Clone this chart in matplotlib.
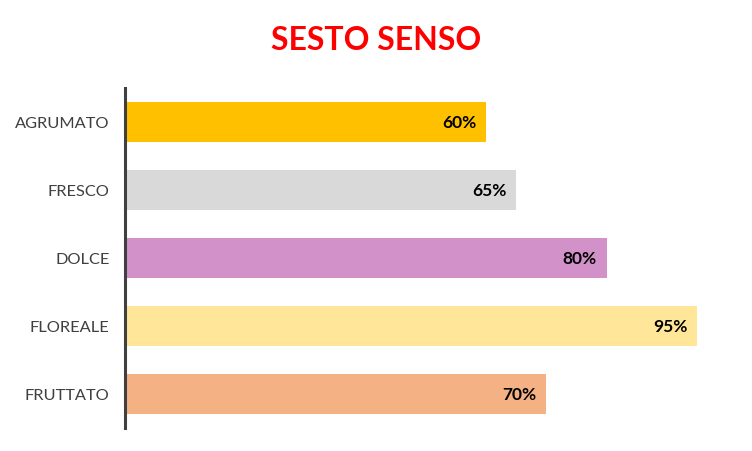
import matplotlib
matplotlib.use("Agg")
import matplotlib.pyplot as plt

categories = ["AGRUMATO", "FRESCO", "DOLCE", "FLOREALE", "FRUTTATO"]
values = [60, 65, 80, 95, 70]
colors = ["#FFC000", "#D9D9D9", "#D291C9", "#FFE699", "#F4B183"]
title = "SESTO SENSO"

plt.rcParams['font.family'] = ['Lato', 'DejaVu Sans']

fig = plt.figure(figsize=(7.52, 4.52), dpi=100)
ax = fig.add_axes([125/752, 1 - 429/452, (727-125)/752, (429-89)/452])

pos = list(range(len(categories)))
ax.barh(pos, values, height=40/68, color=colors)
ax.set_ylim(4.5, -0.5)
ax.set_xlim(0, 100)
ax.set_yticks(pos)
ax.set_yticklabels(categories, fontsize=11.8, color="#404040")
ax.tick_params(axis='y', length=0, pad=11)
ax.set_xticks([])
for s in ["top", "right", "bottom"]:
    ax.spines[s].set_visible(False)
ax.spines["left"].set_color("#404040")
ax.spines["left"].set_linewidth(2.2)

for p, v in zip(pos, values):
    ax.text(v - 1.6, p, f"{v}%", ha="right", va="center", fontsize=12.5,
            fontweight="bold", color="black")

fig.text(376/752, 1 - 40/452, title, ha="center", va="center", fontsize=23,
         fontweight="bold", color="#FF0000")

fig.savefig("out.png", dpi=100)
